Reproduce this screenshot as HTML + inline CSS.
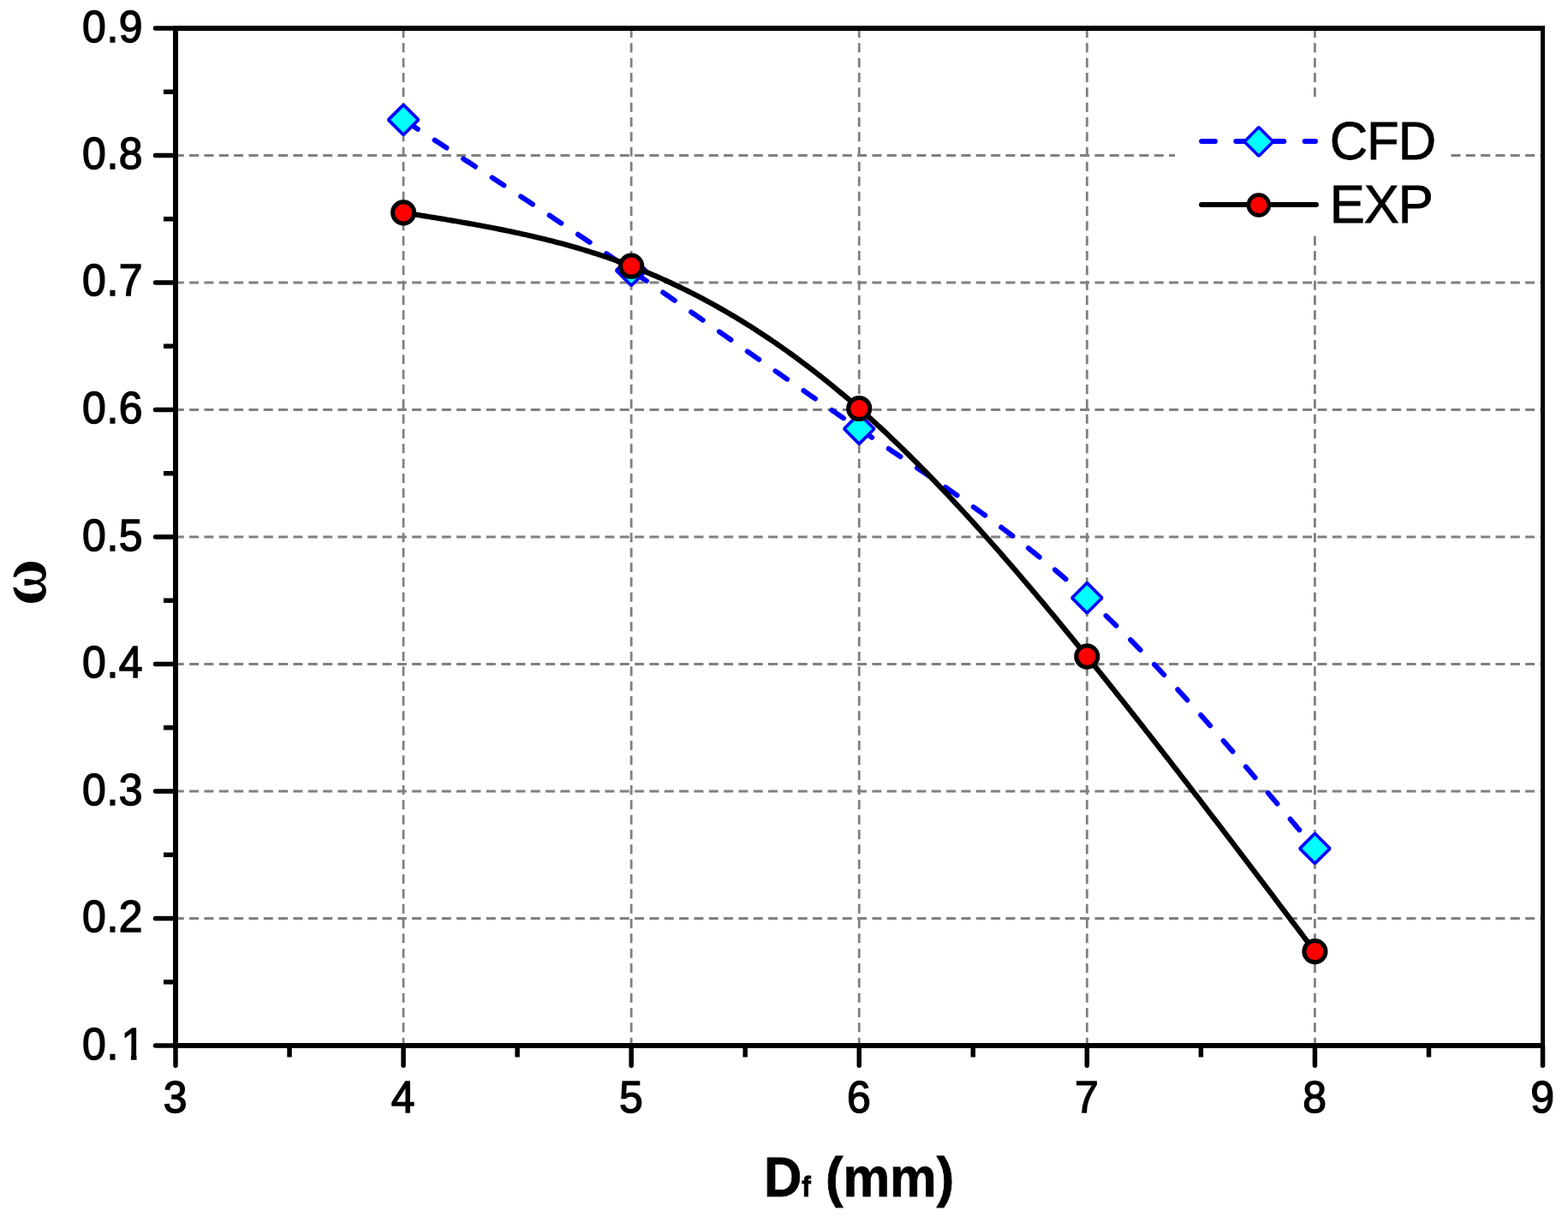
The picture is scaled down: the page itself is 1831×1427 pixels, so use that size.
<!DOCTYPE html>
<html><head><meta charset="utf-8"><title>Chart</title>
<style>html,body{margin:0;padding:0;background:#fff;overflow:hidden}svg{display:block}</style>
</head><body>
<svg width="1831" height="1427" viewBox="0 0 1831 1427">
<rect width="1831" height="1427" fill="#fff"/>
<path d="M203.8 1072.50H1799 M203.8 924.00H1799 M203.8 775.50H1799 M203.8 627.00H1799 M203.8 478.50H1799 M203.8 330.00H1799 M203.8 181.50H1799 M471.08 33V1218 M737.17 33V1218 M1003.25 33V1218 M1269.33 33V1218 M1535.42 33V1218" stroke="#808080" stroke-width="2.8" stroke-dasharray="11.0 6.333" fill="none"/>
<polyline points="471.08,139.92 473.74,141.65 476.40,143.38 479.07,145.10 481.73,146.83 484.39,148.56 487.05,150.29 489.71,152.02 492.37,153.74 495.03,155.47 497.69,157.20 500.35,158.93 503.01,160.66 505.67,162.39 508.33,164.12 511.00,165.85 513.66,167.58 516.32,169.31 518.98,171.04 521.64,172.77 524.30,174.50 526.96,176.24 529.62,177.97 532.28,179.70 534.94,181.43 537.60,183.17 540.26,184.90 542.93,186.64 545.59,188.37 548.25,190.11 550.91,191.84 553.57,193.58 556.23,195.32 558.89,197.06 561.55,198.79 564.21,200.53 566.87,202.27 569.53,204.01 572.19,205.75 574.86,207.50 577.52,209.24 580.18,210.98 582.84,212.73 585.50,214.47 588.16,216.22 590.82,217.97 593.48,219.71 596.14,221.46 598.80,223.21 601.46,224.96 604.12,226.71 606.79,228.47 609.45,230.22 612.11,231.97 614.77,233.73 617.43,235.48 620.09,237.24 622.75,239.00 625.41,240.76 628.07,242.52 630.73,244.28 633.39,246.04 636.06,247.81 638.72,249.57 641.38,251.34 644.04,253.11 646.70,254.88 649.36,256.65 652.02,258.42 654.68,260.19 657.34,261.96 660.00,263.74 662.66,265.52 665.32,267.29 667.99,269.07 670.65,270.86 673.31,272.64 675.97,274.42 678.63,276.21 681.29,277.99 683.95,279.78 686.61,281.57 689.27,283.36 691.93,285.16 694.59,286.95 697.25,288.75 699.92,290.54 702.58,292.34 705.24,294.14 707.90,295.95 710.56,297.75 713.22,299.56 715.88,301.37 718.54,303.17 721.20,304.99 723.86,306.80 726.52,308.61 729.18,310.43 731.85,312.25 734.51,314.07 737.17,315.89 739.83,317.72 742.49,319.54 745.15,321.37 747.81,323.20 750.47,325.03 753.13,326.87 755.79,328.70 758.45,330.54 761.11,332.38 763.77,334.21 766.44,336.06 769.10,337.90 771.76,339.74 774.42,341.59 777.08,343.43 779.74,345.28 782.40,347.13 785.06,348.98 787.72,350.83 790.38,352.69 793.04,354.54 795.70,356.39 798.37,358.25 801.03,360.11 803.69,361.96 806.35,363.82 809.01,365.68 811.67,367.54 814.33,369.40 816.99,371.26 819.65,373.13 822.31,374.99 824.97,376.85 827.63,378.72 830.30,380.58 832.96,382.44 835.62,384.31 838.28,386.17 840.94,388.04 843.60,389.91 846.26,391.77 848.92,393.64 851.58,395.51 854.24,397.37 856.90,399.24 859.56,401.11 862.23,402.97 864.89,404.84 867.55,406.71 870.21,408.57 872.87,410.44 875.53,412.30 878.19,414.17 880.85,416.04 883.51,417.90 886.17,419.77 888.83,421.63 891.50,423.49 894.16,425.36 896.82,427.22 899.48,429.08 902.14,430.94 904.80,432.80 907.46,434.66 910.12,436.52 912.78,438.38 915.44,440.24 918.10,442.09 920.76,443.95 923.43,445.80 926.09,447.66 928.75,449.51 931.41,451.36 934.07,453.21 936.73,455.06 939.39,456.91 942.05,458.76 944.71,460.60 947.37,462.44 950.03,464.29 952.69,466.13 955.36,467.97 958.02,469.81 960.68,471.64 963.34,473.48 966.00,475.31 968.66,477.14 971.32,478.97 973.98,480.80 976.64,482.62 979.30,484.45 981.96,486.27 984.62,488.09 987.28,489.91 989.95,491.73 992.61,493.54 995.27,495.35 997.93,497.16 1000.59,498.97 1003.25,500.78 1005.91,502.58 1008.57,504.38 1011.23,506.18 1013.89,507.98 1016.55,509.77 1019.22,511.57 1021.88,513.36 1024.54,515.15 1027.20,516.94 1029.86,518.73 1032.52,520.52 1035.18,522.31 1037.84,524.10 1040.50,525.89 1043.16,527.68 1045.82,529.47 1048.48,531.26 1051.14,533.05 1053.81,534.84 1056.47,536.63 1059.13,538.42 1061.79,540.22 1064.45,542.01 1067.11,543.81 1069.77,545.61 1072.43,547.41 1075.09,549.22 1077.75,551.02 1080.41,552.83 1083.08,554.64 1085.74,556.46 1088.40,558.27 1091.06,560.09 1093.72,561.92 1096.38,563.74 1099.04,565.58 1101.70,567.41 1104.36,569.25 1107.02,571.09 1109.68,572.94 1112.34,574.79 1115.01,576.65 1117.67,578.51 1120.33,580.38 1122.99,582.25 1125.65,584.12 1128.31,586.01 1130.97,587.90 1133.63,589.79 1136.29,591.69 1138.95,593.60 1141.61,595.51 1144.27,597.43 1146.93,599.36 1149.60,601.29 1152.26,603.23 1154.92,605.18 1157.58,607.14 1160.24,609.10 1162.90,611.07 1165.56,613.05 1168.22,615.04 1170.88,617.03 1173.54,619.04 1176.20,621.05 1178.87,623.07 1181.53,625.10 1184.19,627.14 1186.85,629.19 1189.51,631.25 1192.17,633.32 1194.83,635.39 1197.49,637.48 1200.15,639.58 1202.81,641.69 1205.47,643.81 1208.13,645.94 1210.80,648.08 1213.46,650.23 1216.12,652.39 1218.78,654.57 1221.44,656.76 1224.10,658.95 1226.76,661.16 1229.42,663.38 1232.08,665.62 1234.74,667.87 1237.40,670.12 1240.06,672.40 1242.73,674.68 1245.39,676.98 1248.05,679.29 1250.71,681.62 1253.37,683.95 1256.03,686.31 1258.69,688.67 1261.35,691.05 1264.01,693.45 1266.67,695.86 1269.33,698.28 1271.99,700.72 1274.65,703.17 1277.32,705.64 1279.98,708.12 1282.64,710.62 1285.30,713.13 1287.96,715.65 1290.62,718.19 1293.28,720.74 1295.94,723.31 1298.60,725.89 1301.26,728.48 1303.92,731.08 1306.59,733.70 1309.25,736.33 1311.91,738.98 1314.57,741.63 1317.23,744.30 1319.89,746.98 1322.55,749.67 1325.21,752.38 1327.87,755.09 1330.53,757.82 1333.19,760.56 1335.85,763.31 1338.51,766.07 1341.18,768.84 1343.84,771.62 1346.50,774.42 1349.16,777.22 1351.82,780.03 1354.48,782.86 1357.14,785.69 1359.80,788.54 1362.46,791.39 1365.12,794.26 1367.78,797.13 1370.44,800.01 1373.11,802.91 1375.77,805.81 1378.43,808.72 1381.09,811.64 1383.75,814.56 1386.41,817.50 1389.07,820.44 1391.73,823.40 1394.39,826.36 1397.05,829.33 1399.71,832.30 1402.38,835.28 1405.04,838.28 1407.70,841.27 1410.36,844.28 1413.02,847.29 1415.68,850.31 1418.34,853.34 1421.00,856.37 1423.66,859.41 1426.32,862.45 1428.98,865.50 1431.64,868.56 1434.31,871.62 1436.97,874.69 1439.63,877.76 1442.29,880.84 1444.95,883.93 1447.61,887.02 1450.27,890.11 1452.93,893.21 1455.59,896.31 1458.25,899.42 1460.91,902.53 1463.57,905.65 1466.24,908.77 1468.90,911.90 1471.56,915.02 1474.22,918.16 1476.88,921.29 1479.54,924.43 1482.20,927.57 1484.86,930.72 1487.52,933.86 1490.18,937.01 1492.84,940.16 1495.50,943.32 1498.16,946.48 1500.83,949.64 1503.49,952.80 1506.15,955.96 1508.81,959.12 1511.47,962.29 1514.13,965.46 1516.79,968.63 1519.45,971.79 1522.11,974.97 1524.77,978.14 1527.43,981.31 1530.10,984.48 1532.76,987.65 1535.42,990.83" fill="none" stroke="#0000ff" stroke-width="6" stroke-dasharray="16.5 23.57" stroke-dashoffset="36.64" stroke-linecap="round" stroke-linejoin="round"/>
<path d="M471.08 122.32L488.68 139.92L471.08 157.52L453.48 139.92Z" fill="#00ffff" stroke="#0000ff" stroke-width="3.7" stroke-linejoin="bevel"/>
<path d="M737.17 298.29L754.77 315.89L737.17 333.49L719.57 315.89Z" fill="#00ffff" stroke="#0000ff" stroke-width="3.7" stroke-linejoin="bevel"/>
<path d="M1003.25 483.18L1020.85 500.78L1003.25 518.38L985.65 500.78Z" fill="#00ffff" stroke="#0000ff" stroke-width="3.7" stroke-linejoin="bevel"/>
<path d="M1269.33 680.68L1286.93 698.28L1269.33 715.88L1251.73 698.28Z" fill="#00ffff" stroke="#0000ff" stroke-width="3.7" stroke-linejoin="bevel"/>
<path d="M1535.42 973.23L1553.02 990.83L1535.42 1008.43L1517.82 990.83Z" fill="#00ffff" stroke="#0000ff" stroke-width="3.7" stroke-linejoin="bevel"/>
<polyline points="471.08,248.33 473.74,248.75 476.40,249.17 479.07,249.60 481.73,250.02 484.39,250.44 487.05,250.87 489.71,251.30 492.37,251.72 495.03,252.15 497.69,252.58 500.35,253.01 503.01,253.44 505.67,253.87 508.33,254.31 511.00,254.74 513.66,255.18 516.32,255.62 518.98,256.06 521.64,256.51 524.30,256.95 526.96,257.40 529.62,257.85 532.28,258.31 534.94,258.77 537.60,259.23 540.26,259.69 542.93,260.15 545.59,260.62 548.25,261.09 550.91,261.57 553.57,262.05 556.23,262.53 558.89,263.02 561.55,263.51 564.21,264.01 566.87,264.50 569.53,265.01 572.19,265.52 574.86,266.03 577.52,266.55 580.18,267.07 582.84,267.59 585.50,268.13 588.16,268.66 590.82,269.21 593.48,269.75 596.14,270.31 598.80,270.87 601.46,271.43 604.12,272.00 606.79,272.58 609.45,273.16 612.11,273.75 614.77,274.35 617.43,274.95 620.09,275.56 622.75,276.17 625.41,276.79 628.07,277.42 630.73,278.06 633.39,278.70 636.06,279.35 638.72,280.01 641.38,280.68 644.04,281.35 646.70,282.03 649.36,282.72 652.02,283.42 654.68,284.12 657.34,284.84 660.00,285.56 662.66,286.29 665.32,287.03 667.99,287.78 670.65,288.53 673.31,289.30 675.97,290.07 678.63,290.86 681.29,291.65 683.95,292.45 686.61,293.27 689.27,294.09 691.93,294.92 694.59,295.76 697.25,296.62 699.92,297.48 702.58,298.35 705.24,299.24 707.90,300.13 710.56,301.03 713.22,301.95 715.88,302.88 718.54,303.81 721.20,304.76 723.86,305.72 726.52,306.69 729.18,307.68 731.85,308.67 734.51,309.68 737.17,310.70 739.83,311.73 742.49,312.77 745.15,313.82 747.81,314.89 750.47,315.97 753.13,317.06 755.79,318.16 758.45,319.27 761.11,320.40 763.77,321.54 766.44,322.69 769.10,323.86 771.76,325.03 774.42,326.22 777.08,327.42 779.74,328.63 782.40,329.86 785.06,331.10 787.72,332.35 790.38,333.61 793.04,334.89 795.70,336.17 798.37,337.47 801.03,338.79 803.69,340.11 806.35,341.45 809.01,342.80 811.67,344.16 814.33,345.54 816.99,346.93 819.65,348.33 822.31,349.74 824.97,351.17 827.63,352.61 830.30,354.06 832.96,355.53 835.62,357.00 838.28,358.50 840.94,360.00 843.60,361.52 846.26,363.05 848.92,364.59 851.58,366.14 854.24,367.71 856.90,369.29 859.56,370.89 862.23,372.50 864.89,374.12 867.55,375.75 870.21,377.40 872.87,379.06 875.53,380.73 878.19,382.42 880.85,384.12 883.51,385.83 886.17,387.56 888.83,389.30 891.50,391.05 894.16,392.82 896.82,394.60 899.48,396.39 902.14,398.20 904.80,400.01 907.46,401.85 910.12,403.70 912.78,405.56 915.44,407.43 918.10,409.32 920.76,411.22 923.43,413.13 926.09,415.06 928.75,417.00 931.41,418.96 934.07,420.93 936.73,422.91 939.39,424.91 942.05,426.92 944.71,428.94 947.37,430.98 950.03,433.03 952.69,435.10 955.36,437.18 958.02,439.27 960.68,441.38 963.34,443.50 966.00,445.64 968.66,447.79 971.32,449.95 973.98,452.13 976.64,454.32 979.30,456.53 981.96,458.75 984.62,460.98 987.28,463.23 989.95,465.49 992.61,467.77 995.27,470.06 997.93,472.36 1000.59,474.68 1003.25,477.02 1005.91,479.36 1008.57,481.72 1011.23,484.10 1013.89,486.49 1016.55,488.90 1019.22,491.31 1021.88,493.75 1024.54,496.19 1027.20,498.65 1029.86,501.12 1032.52,503.61 1035.18,506.11 1037.84,508.62 1040.50,511.14 1043.16,513.68 1045.82,516.23 1048.48,518.80 1051.14,521.37 1053.81,523.96 1056.47,526.56 1059.13,529.18 1061.79,531.81 1064.45,534.44 1067.11,537.09 1069.77,539.76 1072.43,542.43 1075.09,545.12 1077.75,547.82 1080.41,550.53 1083.08,553.25 1085.74,555.98 1088.40,558.72 1091.06,561.48 1093.72,564.24 1096.38,567.02 1099.04,569.81 1101.70,572.61 1104.36,575.42 1107.02,578.24 1109.68,581.07 1112.34,583.91 1115.01,586.76 1117.67,589.63 1120.33,592.50 1122.99,595.38 1125.65,598.27 1128.31,601.17 1130.97,604.09 1133.63,607.01 1136.29,609.94 1138.95,612.88 1141.61,615.83 1144.27,618.79 1146.93,621.76 1149.60,624.74 1152.26,627.72 1154.92,630.72 1157.58,633.72 1160.24,636.74 1162.90,639.76 1165.56,642.79 1168.22,645.83 1170.88,648.87 1173.54,651.93 1176.20,654.99 1178.87,658.06 1181.53,661.14 1184.19,664.23 1186.85,667.33 1189.51,670.43 1192.17,673.54 1194.83,676.66 1197.49,679.78 1200.15,682.91 1202.81,686.05 1205.47,689.20 1208.13,692.35 1210.80,695.51 1213.46,698.68 1216.12,701.86 1218.78,705.04 1221.44,708.22 1224.10,711.42 1226.76,714.62 1229.42,717.82 1232.08,721.03 1234.74,724.25 1237.40,727.48 1240.06,730.71 1242.73,733.94 1245.39,737.18 1248.05,740.43 1250.71,743.68 1253.37,746.94 1256.03,750.20 1258.69,753.47 1261.35,756.74 1264.01,760.02 1266.67,763.30 1269.33,766.59 1271.99,769.88 1274.65,773.18 1277.32,776.48 1279.98,779.79 1282.64,783.10 1285.30,786.41 1287.96,789.73 1290.62,793.05 1293.28,796.38 1295.94,799.71 1298.60,803.05 1301.26,806.39 1303.92,809.73 1306.59,813.08 1309.25,816.44 1311.91,819.79 1314.57,823.15 1317.23,826.52 1319.89,829.88 1322.55,833.26 1325.21,836.63 1327.87,840.01 1330.53,843.39 1333.19,846.78 1335.85,850.17 1338.51,853.56 1341.18,856.96 1343.84,860.36 1346.50,863.77 1349.16,867.17 1351.82,870.58 1354.48,874.00 1357.14,877.41 1359.80,880.83 1362.46,884.26 1365.12,887.68 1367.78,891.11 1370.44,894.54 1373.11,897.98 1375.77,901.41 1378.43,904.85 1381.09,908.30 1383.75,911.74 1386.41,915.19 1389.07,918.64 1391.73,922.10 1394.39,925.55 1397.05,929.01 1399.71,932.47 1402.38,935.94 1405.04,939.40 1407.70,942.87 1410.36,946.34 1413.02,949.81 1415.68,953.29 1418.34,956.76 1421.00,960.24 1423.66,963.72 1426.32,967.21 1428.98,970.69 1431.64,974.18 1434.31,977.67 1436.97,981.16 1439.63,984.65 1442.29,988.14 1444.95,991.64 1447.61,995.13 1450.27,998.63 1452.93,1002.13 1455.59,1005.63 1458.25,1009.14 1460.91,1012.64 1463.57,1016.14 1466.24,1019.65 1468.90,1023.16 1471.56,1026.67 1474.22,1030.18 1476.88,1033.69 1479.54,1037.20 1482.20,1040.71 1484.86,1044.23 1487.52,1047.74 1490.18,1051.26 1492.84,1054.78 1495.50,1058.29 1498.16,1061.81 1500.83,1065.33 1503.49,1068.85 1506.15,1072.37 1508.81,1075.89 1511.47,1079.41 1514.13,1082.93 1516.79,1086.45 1519.45,1089.97 1522.11,1093.50 1524.77,1097.02 1527.43,1100.54 1530.10,1104.06 1532.76,1107.59 1535.42,1111.11" fill="none" stroke="#000" stroke-width="6.2" stroke-linejoin="round"/>
<circle cx="471.08" cy="248.33" r="12.6" fill="#ff0000" stroke="#000" stroke-width="5"/>
<circle cx="737.17" cy="310.70" r="12.6" fill="#ff0000" stroke="#000" stroke-width="5"/>
<circle cx="1003.25" cy="477.02" r="12.6" fill="#ff0000" stroke="#000" stroke-width="5"/>
<circle cx="1269.33" cy="766.59" r="12.6" fill="#ff0000" stroke="#000" stroke-width="5"/>
<circle cx="1535.42" cy="1111.11" r="12.6" fill="#ff0000" stroke="#000" stroke-width="5"/>
<rect x="1372" y="113" width="318" height="161" fill="#fff"/>
<path d="M1403.1 164.9H1536" stroke="#0000ff" stroke-width="6" stroke-dasharray="15.8 24.4" stroke-linecap="round" fill="none"/>
<path d="M1469.9 148.6L1486.7 165.4L1469.9 182.20000000000002L1453.1000000000001 165.4Z" fill="#00ffff" stroke="#0000ff" stroke-width="3.5" stroke-linejoin="bevel"/>
<path d="M1403 239H1537" stroke="#000" stroke-width="5.9" stroke-linecap="round" fill="none"/>
<circle cx="1469.85" cy="239.5" r="12" fill="#ff0000" stroke="#000" stroke-width="4.6"/>
<text transform="translate(1552.7,185.7) scale(0.97,1)" font-family="Liberation Sans, Arial, sans-serif" font-size="63.5" letter-spacing="-1.1" stroke="#000" stroke-width="0.8">CFD</text>
<text transform="translate(1552.8,259.9) scale(0.97,1)" font-family="Liberation Sans, Arial, sans-serif" font-size="63.5" letter-spacing="-1.1" stroke="#000" stroke-width="0.8">EXP</text>
<path d="M202 33H1804" stroke="#000" stroke-width="6" fill="none"/>
<path d="M205 30V1224" stroke="#000" stroke-width="6" fill="none"/>
<path d="M202 1221H1804" stroke="#000" stroke-width="6" fill="none"/>
<path d="M1801.5 30V1224" stroke="#000" stroke-width="5" fill="none"/>
<path d="M205 1221.00H181.5 M205 1072.50H181.5 M205 924.00H181.5 M205 775.50H181.5 M205 627.00H181.5 M205 478.50H181.5 M205 330.00H181.5 M205 181.50H181.5 M205 33.00H181.5 M205.00 1221V1244.3 M471.08 1221V1244.3 M737.17 1221V1244.3 M1003.25 1221V1244.3 M1269.33 1221V1244.3 M1535.42 1221V1244.3 M1801.50 1221V1244.3" stroke="#000" stroke-width="5.5" stroke-linecap="round" fill="none"/>
<path d="M205 1146.75H191 M205 998.25H191 M205 849.75H191 M205 701.25H191 M205 552.75H191 M205 404.25H191 M205 255.75H191 M205 107.25H191 M338.04 1221V1234.6 M604.12 1221V1234.6 M870.21 1221V1234.6 M1136.29 1221V1234.6 M1402.38 1221V1234.6 M1668.46 1221V1234.6" stroke="#000" stroke-width="5.5" stroke-linecap="butt" fill="none"/>
<defs><clipPath id="clip1"><rect x="0" y="1150" width="140" height="120"/><rect x="0" y="1150" width="200" height="81.9"/><rect x="152.95" y="1150" width="6.5" height="120"/></clipPath></defs>
<g clip-path="url(#clip1)"><text transform="translate(169.90,1236.70) scale(0.96,1)" text-anchor="end" font-family="Liberation Sans, Arial, sans-serif" font-size="52" letter-spacing="0.6" stroke="#000" stroke-width="1.4">0.<tspan dx="2.81">1</tspan></text></g>
<text transform="translate(167.2,1087.80) scale(0.96,1)" text-anchor="end" font-family="Liberation Sans, Arial, sans-serif" font-size="52" letter-spacing="0.6" stroke="#000" stroke-width="1.4">0.2</text>
<text transform="translate(167.2,940.00) scale(0.96,1)" text-anchor="end" font-family="Liberation Sans, Arial, sans-serif" font-size="52" letter-spacing="0.6" stroke="#000" stroke-width="1.4">0.3</text>
<text transform="translate(167.2,790.80) scale(0.96,1)" text-anchor="end" font-family="Liberation Sans, Arial, sans-serif" font-size="52" letter-spacing="0.6" stroke="#000" stroke-width="1.4">0.4</text>
<text transform="translate(167.2,643.00) scale(0.96,1)" text-anchor="end" font-family="Liberation Sans, Arial, sans-serif" font-size="52" letter-spacing="0.6" stroke="#000" stroke-width="1.4">0.5</text>
<text transform="translate(167.2,494.00) scale(0.96,1)" text-anchor="end" font-family="Liberation Sans, Arial, sans-serif" font-size="52" letter-spacing="0.6" stroke="#000" stroke-width="1.4">0.6</text>
<text transform="translate(167.2,345.00) scale(0.96,1)" text-anchor="end" font-family="Liberation Sans, Arial, sans-serif" font-size="52" letter-spacing="0.6" stroke="#000" stroke-width="1.4">0.7</text>
<text transform="translate(167.2,196.90) scale(0.96,1)" text-anchor="end" font-family="Liberation Sans, Arial, sans-serif" font-size="52" letter-spacing="0.6" stroke="#000" stroke-width="1.4">0.8</text>
<text transform="translate(167.2,48.90) scale(0.96,1)" text-anchor="end" font-family="Liberation Sans, Arial, sans-serif" font-size="52" letter-spacing="0.6" stroke="#000" stroke-width="1.4">0.9</text>
<text transform="translate(204.60,1299.2) scale(0.96,1)" text-anchor="middle" font-family="Liberation Sans, Arial, sans-serif" font-size="52" stroke="#000" stroke-width="1.4">3</text>
<text transform="translate(470.68,1299.2) scale(0.96,1)" text-anchor="middle" font-family="Liberation Sans, Arial, sans-serif" font-size="52" stroke="#000" stroke-width="1.4">4</text>
<text transform="translate(736.77,1299.2) scale(0.96,1)" text-anchor="middle" font-family="Liberation Sans, Arial, sans-serif" font-size="52" stroke="#000" stroke-width="1.4">5</text>
<text transform="translate(1002.85,1299.2) scale(0.96,1)" text-anchor="middle" font-family="Liberation Sans, Arial, sans-serif" font-size="52" stroke="#000" stroke-width="1.4">6</text>
<text transform="translate(1268.93,1299.2) scale(0.96,1)" text-anchor="middle" font-family="Liberation Sans, Arial, sans-serif" font-size="52" stroke="#000" stroke-width="1.4">7</text>
<text transform="translate(1535.02,1299.2) scale(0.96,1)" text-anchor="middle" font-family="Liberation Sans, Arial, sans-serif" font-size="52" stroke="#000" stroke-width="1.4">8</text>
<text transform="translate(1801.10,1299.2) scale(0.96,1)" text-anchor="middle" font-family="Liberation Sans, Arial, sans-serif" font-size="52" stroke="#000" stroke-width="1.4">9</text>
<text transform="translate(892,1396.6) scale(0.96,1)" font-family="Liberation Sans, Arial, sans-serif" font-weight="bold" font-size="64" stroke="#000" stroke-width="0.8">D<tspan font-size="33">f</tspan> (mm)</text>
<text transform="translate(53.07,707.06) rotate(-90) scale(0.74,0.81)" font-family="Liberation Serif, Times New Roman, serif" font-weight="bold" font-size="100">ω</text>
</svg>
</body></html>
